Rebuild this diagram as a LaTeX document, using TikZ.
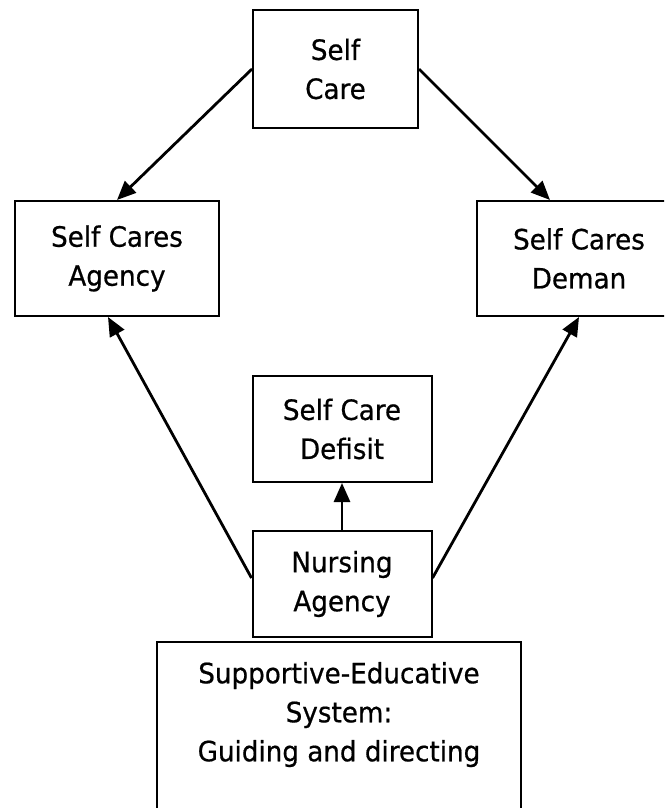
\documentclass[tikz,border=0pt]{standalone}
\usepackage{fontspec}
\setmainfont{DejaVu Sans Condensed}[FakeBold=0.6,FakeStretch=1.04]
\usetikzlibrary{arrows.meta,positioning}

\begin{document}
\begin{tikzpicture}[x=1pt,y=-1pt,
    conceptbox/.style={draw,line width=2pt,align=center,inner sep=0pt,
      font=\fontsize{28}{39}\selectfont},
    link/.style={-{Triangle[length=19pt,width=16pt]},line width=2.8pt}]
  \useasboundingbox (0,0) rectangle (664,808);
  \clip (0,0) rectangle (664,808);
  % the concepts
  \node[conceptbox,minimum width=165pt,minimum height=118pt] (care) at (335.5,69) {Self\\Care};
  \node[conceptbox,minimum width=204pt,minimum height=115pt] (agency) at (117,258.5) {Self Cares\\Agency};
  \node[conceptbox,minimum width=204pt,minimum height=115pt] (demand) at (579,258.5) {Self Cares\\Deman};
  \node[conceptbox,minimum width=179pt,minimum height=106pt] (deficit) at (342,429) {Self Care\\Defisit};
  \node[conceptbox,minimum width=179pt,minimum height=106pt] (nursing) at (342,584) {Nursing\\Agency};
  \node[conceptbox,minimum width=364pt,inner ysep=20pt,text depth=220pt,anchor=north] (system) at (339,641)
    {Supportive-Educative\\System:\\Guiding and directing};
  % links
  \draw[link] (care.west) -- (agency.north);
  \draw[link] (care.east) -- ([xshift=-29pt]demand.north);
  \draw[link] ([yshift=6pt]nursing.west) -- ([xshift=-9pt]agency.south);
  \draw[link] ([yshift=6pt]nursing.east) -- (demand.south);
  \draw[link] (nursing.north) -- (deficit.south);
\end{tikzpicture}
\end{document}
